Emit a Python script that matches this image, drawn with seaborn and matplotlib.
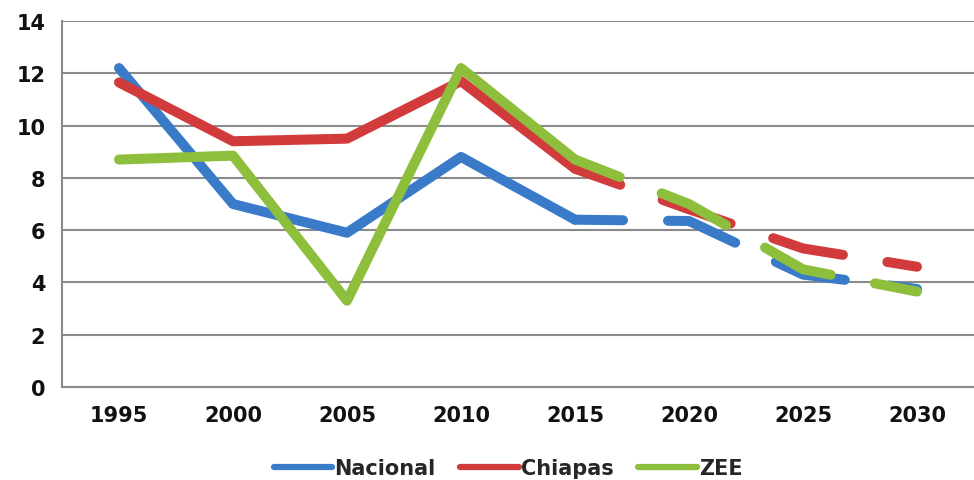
import matplotlib
matplotlib.use("Agg")
import matplotlib.pyplot as plt
import numpy as np
import pandas as pd
import seaborn as sns
from matplotlib.lines import Line2D

years = ["1995", "2000", "2005", "2010", "2015", "2020", "2025", "2030"]
nacional = [12.2, 7.0, 5.9, 8.8, 6.4, 6.35, 4.3, 3.75]
chiapas = [11.65, 9.4, 9.5, 11.7, 8.35, 6.8, 5.3, 4.6]
zee = [8.7, 8.85, 3.3, 12.2, 8.7, 7.0, 4.5, 3.65]
series_names = ["Nacional", "Chiapas", "ZEE"]
colors = ["#3A7BC9", "#D23B3B", "#8DBF3D"]
proj_start = 4  # index of 2015: projected (dashed) from here on

rows = []
for name, vals in zip(series_names, [nacional, chiapas, zee]):
    for i, (y, v) in enumerate(zip(years, vals)):
        rows.append({"idx": i, "year": y, "serie": name, "valor": v})
df = pd.DataFrame(rows)

sns.set_theme(style="white")
plt.rcParams["font.family"] = ["DejaVu Sans"]

fig = plt.figure(figsize=(9.74, 4.81), dpi=100)
ax = fig.add_axes([62 / 974, 93 / 481, 1 - 62 / 974, 366 / 481])

pal = dict(zip(series_names, colors))
hist = df[df["idx"] <= proj_start]
proj = df[df["idx"] >= proj_start]

sns.lineplot(data=hist, x="idx", y="valor", hue="serie", palette=pal,
             hue_order=series_names, estimator=None, sort=False,
             legend=False, ax=ax)
n_hist = len(ax.lines)
sns.lineplot(data=proj, x="idx", y="valor", hue="serie", palette=pal,
             hue_order=series_names, estimator=None, sort=False,
             legend=False, ax=ax)

lw = 7.2
for k, ln in enumerate(ax.lines):
    ln.set_linewidth(lw)
    ln.set_solid_capstyle("round")
    ln.set_solid_joinstyle("round")
    ln.set_dash_capstyle("round")
    ln.set_dash_joinstyle("round")
    ln.set_zorder(3 + (k % 3))
    if k >= n_hist:
        ln.set_linestyle((2.4, (7.2, 4.5)))

ax.set_ylim(0, 14)
ax.set_xlim(-0.5, 7.42)
ax.set_yticks(np.arange(0, 15, 2))
ax.set_xticks(range(len(years)))
ax.set_xticklabels(years)
ax.set_xticks(np.arange(-0.5, 8, 1), minor=True)
ax.set_xlabel("")
ax.set_ylabel("")

ax.grid(axis="y", color="#8a8a8a", linewidth=1.5, zorder=1)
ax.set_axisbelow(True)
for s in ["top", "right"]:
    ax.spines[s].set_visible(False)
for s in ["left", "bottom"]:
    ax.spines[s].set_color("#8a8a8a")
    ax.spines[s].set_linewidth(1.5)

ax.tick_params(axis="y", which="major", length=6, width=1.5, color="#8a8a8a",
               direction="out", labelsize=15, pad=6)
ax.tick_params(axis="x", which="major", length=0, labelsize=15, pad=13)
ax.tick_params(axis="x", which="minor", length=6, width=1.5, color="#8a8a8a",
               direction="out")
for lab in ax.get_xticklabels() + ax.get_yticklabels():
    lab.set_fontweight("bold")
    lab.set_color("#111111")

handles = [Line2D([0], [0], color=c, lw=4.5, solid_capstyle="round")
           for c in colors]
leg = fig.legend(handles, series_names, loc="center", ncol=3,
                 bbox_to_anchor=(508 / 974, 12 / 481), frameon=False,
                 handlelength=2.8, handletextpad=0.1, columnspacing=1.2,
                 prop={"weight": "bold", "size": 15})

fig.savefig("out.png", dpi=100, facecolor="white")
